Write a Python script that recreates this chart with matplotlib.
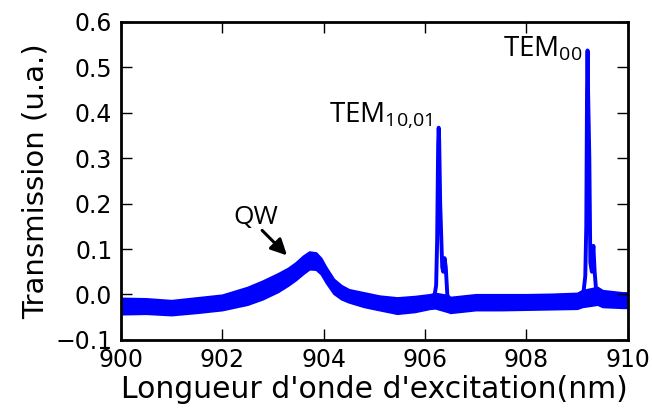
import matplotlib
matplotlib.use("Agg")
import matplotlib.pyplot as plt

plt.rcParams["mathtext.fontset"] = "custom"
plt.rcParams["mathtext.rm"] = "Open Sans"
plt.rcParams["mathtext.it"] = "Open Sans"

band_x = [900.0, 900.5, 901.0, 901.5, 902.0, 902.5, 902.8, 903.1, 903.3, 903.45,
          903.6, 903.72, 903.85, 903.95, 904.05, 904.2, 904.35, 904.5, 904.8, 905.1,
          905.45, 905.8, 906.1, 906.2, 906.45, 906.5, 907.0, 907.5, 908.0, 908.5,
          909.0, 909.1, 909.4, 909.5, 909.9, 910.0]
band_lo = [-0.043, -0.042, -0.045, -0.040, -0.034, -0.022, -0.010, 0.006, 0.020, 0.032,
           0.046, 0.056, 0.055, 0.045, 0.026, 0.002, -0.010, -0.017, -0.027, -0.034,
           -0.042, -0.038, -0.031, -0.030, -0.038, -0.040, -0.034, -0.034, -0.033, -0.032,
           -0.031, -0.027, -0.022, -0.027, -0.029, -0.029]
band_hi = [-0.008, -0.009, -0.013, -0.007, -0.001, 0.016, 0.030, 0.046, 0.058, 0.070,
           0.085, 0.094, 0.092, 0.080, 0.060, 0.034, 0.020, 0.011, 0.004, -0.003,
           -0.007, -0.004, 0.000, 0.003, -0.002, -0.006, 0.000, 0.000, 0.000, 0.001,
           0.003, 0.009, 0.016, 0.009, 0.004, 0.004]

# Cavity mode peaks (centre trace)
peak1_x = [906.12, 906.18, 906.22, 906.24, 906.26, 906.27, 906.28, 906.30, 906.32,
           906.34, 906.36, 906.385, 906.41, 906.44, 906.48]
peak1_y = [-0.012, -0.008, 0.020, 0.120, 0.330, 0.367, 0.340, 0.200, 0.130,
           0.060, 0.050, 0.080, 0.060, 0.000, -0.020]
peak2_x = [909.05, 909.12, 909.16, 909.18, 909.195, 909.205, 909.215, 909.24,
           909.26, 909.29, 909.32, 909.345, 909.38, 909.45]
peak2_y = [-0.010, 0.000, 0.040, 0.150, 0.450, 0.537, 0.450, 0.300,
           0.070, 0.050, 0.107, 0.050, 0.000, -0.010]

blue = "#0000ff"

fig = plt.figure(figsize=(6.52, 4.12), dpi=100)
ax = fig.add_axes([0.185, 0.175, 0.778, 0.772])

ax.fill_between(band_x, band_lo, band_hi, color=blue, lw=1.5, edgecolor=blue)
ax.plot(peak1_x, peak1_y, color=blue, lw=2.8, solid_joinstyle="round")
ax.plot(peak2_x, peak2_y, color=blue, lw=2.8, solid_joinstyle="round")

ax.set_xlim(900, 910)
ax.set_ylim(-0.1, 0.6)
ax.set_xticks([900, 902, 904, 906, 908, 910])
ax.set_yticks([-0.1, 0.0, 0.1, 0.2, 0.3, 0.4, 0.5, 0.6])
ax.set_yticklabels(["\u22120.1", "0.0", "0.1", "0.2", "0.3", "0.4", "0.5", "0.6"])
ax.tick_params(direction="in", length=8, width=1, labelsize=17,
               top=True, right=True, pad=6)
for s in ax.spines.values():
    s.set_linewidth(2)

ax.set_xlabel("Longueur d'onde d'excitation(nm)", fontsize=21.5, labelpad=2)
ax.set_ylabel("Transmission (u.a.)", fontsize=21, labelpad=4)

ann_font = "Open Sans"
ax.text(906.14, 0.38, "TEM$_{10{,}01}$", ha="right", va="baseline",
        fontsize=20, family=ann_font)
ax.text(909.11, 0.524, "TEM$_{00}$", ha="right", va="baseline",
        fontsize=20, family=ann_font)
ax.text(902.67, 0.156, "QW", ha="center", va="baseline",
        fontsize=19, family=ann_font)
ax.annotate("", xy=(903.28, 0.086), xytext=(902.79, 0.141),
            arrowprops=dict(arrowstyle="-|>", lw=2.2, color="black",
                            mutation_scale=24, shrinkA=0, shrinkB=0))

fig.savefig("out.png", dpi=100)
